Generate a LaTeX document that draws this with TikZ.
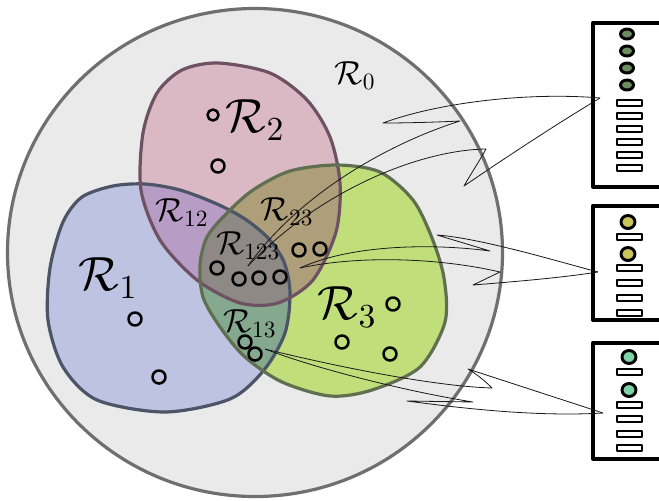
\documentclass[tikz,border=0pt]{standalone}
\DeclareFontShape{OMS}{cmsy}{m}{n}{<->cmsy10}{}
\DeclareFontShape{OT1}{cmr}{m}{n}{<->cmr10}{}
\DeclareFontShape{OML}{cmm}{m}{it}{<->cmmi10}{}
\definecolor{zerofill}{HTML}{EAEAEA}
\definecolor{zeroline}{HTML}{6F6F6F}
\definecolor{onefill}{HTML}{BEC3E2}
\definecolor{oneline}{HTML}{4B5567}
\definecolor{twofill}{HTML}{DAB9C5}
\definecolor{twoline}{HTML}{6E5263}
\definecolor{threefill}{HTML}{C0DF7B}
\definecolor{threeline}{HTML}{5F6F50}
\definecolor{fill12}{HTML}{B79CC6}
\definecolor{fill23}{HTML}{AE9E79}
\definecolor{fill13}{HTML}{84A98F}
\definecolor{fill123}{HTML}{8E8984}
\definecolor{ledone}{HTML}{6B8C5E}
\definecolor{ledtwo}{HTML}{C9C75A}
\definecolor{ledthree}{HTML}{7DD3A5}
\newcommand{\regone}{plot[smooth cycle] coordinates {(113,186) (145,184) (180,190) (217,204) (245,219) (268,238) (284,262) (290,293) (285,333) (264,370) (230,399) (165,412) (97,400) (63,367) (48,320) (50,268) (63,222) (82,197)}}
\newcommand{\regtwo}{plot[smooth cycle] coordinates {(218,63) (270,73) (307,100) (330,137) (340,183) (336,232) (313,280) (278,303) (240,303) (197,280) (160,240) (141,190) (143,133) (157,93) (182,70)}}
\newcommand{\regthree}{plot[smooth cycle] coordinates {(337,165) (380,172) (413,200) (432,238) (444,278) (445,322) (420,367) (372,390) (330,396) (282,382) (245,357) (220,327) (203,297) (200,265) (207,237) (227,213) (253,190) (290,171)}}

\begin{document}
\begin{tikzpicture}[x=0.75pt, y=-0.75pt, line join=round,
  region/.style={line width=2.4pt},
  dot/.style={draw=black, line width=1.9pt},
  wire/.style={line width=0.6pt, black!90},
  rack/.style={draw=black, line width=3pt, fill=white},
  slot/.style={draw=black, line width=1.5pt, fill=white},
  led/.style={draw=black, line width=2.2pt},
  lbl/.style={inner sep=0pt, font=\fontsize{25}{30}\selectfont},
  biglbl/.style={inner sep=0pt, font=\fontsize{36}{43}\selectfont}]
  \clip (0,0) rectangle (659,500);
  % R0
  \draw[region, draw=zeroline, fill=zerofill] (255,252.5) ellipse [x radius=247.5, y radius=244];
  % R1, R2, R3
  \fill[onefill] \regone;
  \fill[twofill] \regtwo;
  \fill[threefill] \regthree;
  % overlaps
  \begin{scope} \clip \regone; \fill[fill12] \regtwo; \end{scope}
  \begin{scope} \clip \regtwo; \fill[fill23] \regthree; \end{scope}
  \begin{scope} \clip \regone; \fill[fill13] \regthree; \end{scope}
  \begin{scope} \clip \regone; \clip \regtwo; \fill[fill123] \regthree; \end{scope}
  \draw[region, draw=oneline] \regone;
  \draw[region, draw=twoline] \regtwo;
  \draw[region, draw=threeline] \regthree;
  % points
  \draw[dot] (213,115) circle [radius=5.5];
  \draw[dot] (218,166) circle [radius=6.5];
  \draw[dot] (135,319) circle [radius=6.5];
  \draw[dot] (159,377) circle [radius=6.5];
  \draw[dot] (393,304) circle [radius=6.5];
  \draw[dot] (342,342) circle [radius=6.5];
  \draw[dot] (390,354) circle [radius=6.5];
  \draw[dot] (299,250) circle [radius=6.5];
  \draw[dot] (320,249) circle [radius=6.5];
  \draw[dot] (217,268) circle [radius=6.5];
  \draw[dot] (239,279) circle [radius=6.5];
  \draw[dot] (259,278) circle [radius=6.5];
  \draw[dot] (280,277) circle [radius=6.5];
  \draw[dot] (245,342) circle [radius=6.5];
  \draw[dot] (255,354) circle [radius=6.5];
  % labels
  \node[lbl] (r0) at (355,76) {$\mathcal{R}_0$};
  \node[biglbl] (r1) at (108,278) {$\mathcal{R}_1$};
  \node[biglbl] (r2) at (255,120) {$\mathcal{R}_2$};
  \node[biglbl] (r3) at (347,307) {$\mathcal{R}_3$};
  \node[lbl] (r12) at (182,213) {$\mathcal{R}_{12}$};
  \node[lbl] (r23) at (287,212) {$\mathcal{R}_{23}$};
  \node[lbl] (r123) at (248,246) {$\mathcal{R}_{123}$};
  \node[lbl] (r13) at (250,324) {$\mathcal{R}_{13}$};
  % racks
  \draw[rack] (593,22.5) rectangle (700,186.5);
  \draw[rack] (593,205.5) rectangle (700,320);
  \draw[rack] (593,342.5) rectangle (700,458.5);
  \draw[led, fill=ledone] (627,34) ellipse [x radius=6.5, y radius=5];
  \draw[led, fill=ledone] (627,51) ellipse [x radius=6.5, y radius=5];
  \draw[led, fill=ledone] (627,68) ellipse [x radius=6.5, y radius=5];
  \draw[led, fill=ledone] (627,85) ellipse [x radius=6.5, y radius=5];
  \draw[slot] (616.5,100) rectangle (641.5,106);
  \draw[slot] (616.5,113) rectangle (641.5,119);
  \draw[slot] (616.5,126) rectangle (641.5,132);
  \draw[slot] (616.5,139) rectangle (641.5,145);
  \draw[slot] (616.5,152) rectangle (641.5,158);
  \draw[slot] (616.5,165) rectangle (641.5,171);
  \draw[led, fill=ledtwo] (628,222) ellipse [x radius=7, y radius=6.5];
  \draw[slot] (616.5,234) rectangle (641.5,240);
  \draw[led, fill=ledtwo] (628,254) ellipse [x radius=7, y radius=6.5];
  \draw[slot] (616.5,265) rectangle (641.5,271);
  \draw[slot] (616.5,280) rectangle (641.5,286);
  \draw[slot] (616.5,295) rectangle (641.5,301);
  \draw[slot] (616.5,310) rectangle (641.5,316);
  \draw[led, fill=ledthree] (629,357) ellipse [x radius=7, y radius=6.5];
  \draw[slot] (616.5,369) rectangle (641.5,375);
  \draw[led, fill=ledthree] (629,390) ellipse [x radius=7, y radius=6.5];
  \draw[slot] (616.5,402) rectangle (641.5,408);
  \draw[slot] (616.5,416) rectangle (641.5,422);
  \draw[slot] (616.5,431) rectangle (641.5,437);
  \draw[slot] (616.5,445) rectangle (641.5,451);
  % wires
  \coordinate (a1) at (600,98);
  \coordinate (a2) at (598,272);
  \coordinate (a3) at (603,413);
  \coordinate (e1) at (248,266);
  \coordinate (e2) at (300,268);
  \coordinate (e3) at (265,349);
  \draw[wire] (a1) .. controls (530,92) and (440,102) .. (383,123) .. controls (410,123) and (440,122) .. (460,121) .. controls (390,143) and (300,193) .. (e1);
  \draw[wire] (a1) .. controls (555,125) and (505,158) .. (464,186) .. controls (472,172) and (480,160) .. (486,149) .. controls (420,150) and (320,190) .. (e1);
  \draw[wire] (a2) .. controls (560,262) and (480,238) .. (437,235) -- (490,251) .. controls (430,243) and (350,245) .. (e2);
  \draw[wire] (a2) .. controls (560,278) and (510,282) .. (473,285) -- (500,272) .. controls (440,258) and (360,255) .. (e2);
  \draw[wire] (a3) -- (468,369) .. controls (478,375) and (486,382) .. (492,388) .. controls (430,386) and (330,365) .. (e3);
  \draw[wire] (a3) .. controls (535,417) and (460,408) .. (407,401) -- (473,402) .. controls (410,392) and (320,370) .. (e3);
\end{tikzpicture}
\end{document}
